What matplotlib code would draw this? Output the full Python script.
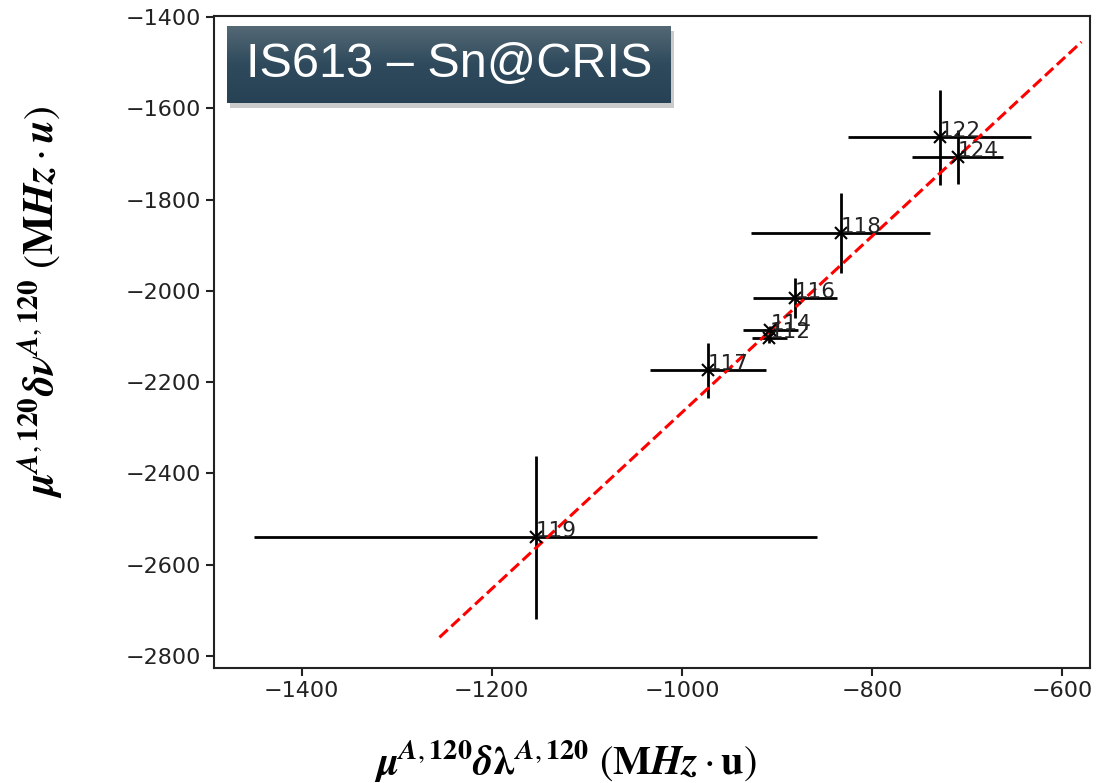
import matplotlib.pyplot as plt
import numpy as np
from matplotlib.colors import LinearSegmentedColormap

# isotope mass numbers and modified shifts
isotopes = ["112", "114", "116", "117", "118", "119", "122", "124"]
mod_dlambda = [-908, -907, -881, -973, -833, -1154, -729, -710]
mod_dlambda_err = [18, 29, 44, 61, 94, 296, 96, 48]
mod_dnu = [-2104, -2086, -2016, -2174, -1874, -2540, -1664, -1707]
mod_dnu_err = [10, 10, 44, 60, 88, 178, 104, 60]

# fitted King line end points
fit_x = [-1255, -580]
fit_y = [-2759, -1455]

plt.rcParams['mathtext.fontset'] = 'stix'

fig = plt.figure(figsize=(10.96, 7.83), dpi=100)
ax = fig.add_axes([0.1953, 0.1469, 0.7992, 0.8327])

ax.errorbar(mod_dlambda, mod_dnu, xerr=mod_dlambda_err, yerr=mod_dnu_err,
            fmt='kx', ecolor='k', elinewidth=2, markersize=9, mew=1.5,
            linestyle='None')
ax.plot(fit_x, fit_y, 'r--', lw=2.2)
for lab, x, y in zip(isotopes, mod_dlambda, mod_dnu):
    ax.annotate(lab, (x, y), fontsize=15.5, color='#222222')

ax.set_xlim(-1492, -571)
ax.set_ylim(-2826, -1398)
ax.set_xticks([-1400, -1200, -1000, -800, -600])
ax.set_yticks([-2800, -2600, -2400, -2200, -2000, -1800, -1600, -1400])
ax.tick_params(labelsize=16, width=1.5, length=6, color='#222222', labelcolor='#222222')
for s in ax.spines.values():
    s.set_linewidth(1.5)
    s.set_color('#222222')

# axis labels placed as in the slide
xlab = (r'$\boldsymbol{\mu}^{\boldsymbol{A},\mathbf{120}}\boldsymbol{\delta\lambda}^{\boldsymbol{A},\mathbf{120}}'
        r'\ (\mathbf{M}\boldsymbol{Hz}\cdot\mathbf{u})$')
ylab = (r'$\boldsymbol{\mu}^{\boldsymbol{A},\mathbf{120}}\boldsymbol{\delta\nu}^{\boldsymbol{A},\mathbf{120}}'
        r'\ (\mathbf{M}\boldsymbol{Hz}\cdot\boldsymbol{u})$')
fig.text(0.516, 0.028, xlab, fontsize=29, ha='center', va='center')
fig.text(0.037, 0.614, ylab, fontsize=30, ha='center', va='center', rotation=90)

# title box with gradient and shadow
bx0, bx1, by0, by1 = 227 / 1096, 671 / 1096, 1 - 103 / 783, 1 - 26 / 783
shadow = plt.Rectangle((bx0 + 0.003, by0 - 0.006), bx1 - bx0, by1 - by0,
                       transform=fig.transFigure, facecolor='#999999', alpha=0.5,
                       edgecolor='none', zorder=5)
fig.patches.append(shadow)
bax = fig.add_axes([bx0, by0, bx1 - bx0, by1 - by0], zorder=6)
grad = np.linspace(0, 1, 100).reshape(-1, 1)
cm = LinearSegmentedColormap.from_list('box', ['#546875', '#2e4a5c', '#264254'])
bax.imshow(grad, aspect='auto', cmap=cm, extent=[0, 1, 0, 1])
bax.set_axis_off()
bax.text(0.5, 0.5, 'IS613 – Sn@CRIS', color='white', fontsize=35,
         family='Liberation Sans', ha='center', va='center', transform=bax.transAxes)

fig.savefig('out.png', dpi=100)
